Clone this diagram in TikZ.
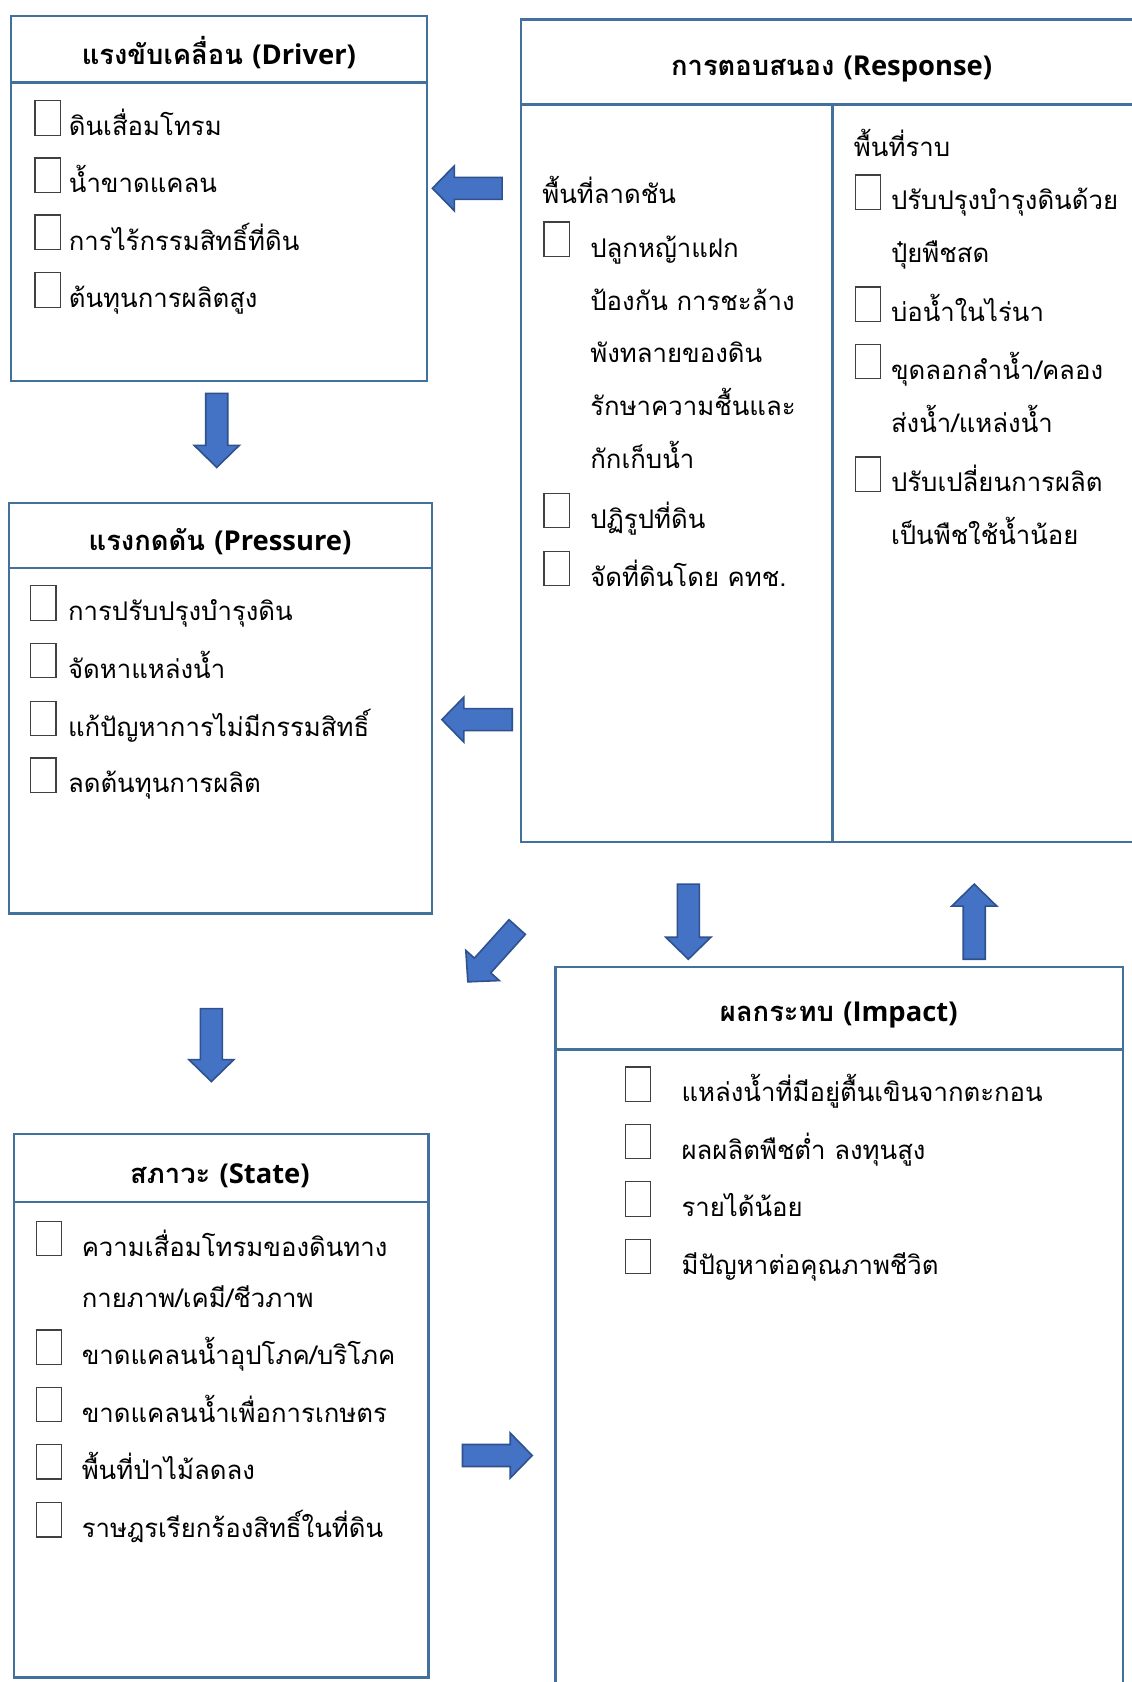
\documentclass[tikz,border=0pt]{standalone}
\usepackage{fontspec}
\setmainfont[Script=Thai]{Loma}
\newfontfamily\latfont{Open Sans}
\definecolor{boxblue}{HTML}{41719C}
\definecolor{arrfill}{HTML}{4472C4}
\definecolor{arrline}{HTML}{2F528F}
\tikzset{
  frame/.style={draw=boxblue, line width=2.2pt},
  boxnode/.style={frame, rectangle, inner sep=0pt, outer sep=0pt, anchor=north west},
  cbox/.style={draw=black!75, line width=1.1pt, rectangle, minimum width=23.5pt, minimum height=32pt, inner sep=0pt, anchor=south west},
  itemtxt/.style={anchor=base west, inner sep=0pt, align=left, font=\fontsize{24}{49.2}\selectfont},
  titletxt/.style={anchor=base, inner sep=0pt, font=\fontsize{25.5}{30}\selectfont\bfseries},
  pics/barrow/.style={code={
    \draw[fill=arrfill, draw=arrline, line width=1.5pt]
      (0,-10.25) -- (#1-20.5,-10.25) -- (#1-20.5,-21) -- (#1,0) -- (#1-20.5,21)
      -- (#1-20.5,10.25) -- (0,10.25) -- cycle;}}
}
\begin{document}
\begin{tikzpicture}[x=1pt,y=-1pt]
\useasboundingbox[fill=white] (0,0) rectangle (1055,1567.6);

% ---------- Driver ----------
\node[boxnode, minimum width=387.5pt, minimum height=340pt] (drv) at (10.5,15) {};
\draw[frame] (drv.west |- 0,77) -- (drv.east |- 0,77);
\node[titletxt] (drvt) at (204,60.5) {แรงขับเคลื่อน {\latfont (Driver)}};
\node[cbox] (d1b) at (32,126.5) {};
\node[itemtxt] (d1) at (64,126.5) {ดินเสื่อมโทรม};
\node[cbox] (d2b) at (32,179.8) {};
\node[itemtxt] (d2) at (64,179.8) {น้ำขาดแคลน};
\node[cbox] (d3b) at (32,233) {};
\node[itemtxt] (d3) at (64,233) {การไร้กรรมสิทธิ์ที่ดิน};
\node[cbox] (d4b) at (32,286.8) {};
\node[itemtxt] (d4) at (64,286.8) {ต้นทุนการผลิตสูง};

% ---------- Pressure ----------
\node[boxnode, minimum width=394.5pt, minimum height=383pt] (prs) at (8.3,468.5) {};
\draw[frame] (prs.west |- 0,529.5) -- (prs.east |- 0,529.5);
\node[titletxt] (prst) at (205,512.6) {แรงกดดัน {\latfont (Pressure)}};
\node[cbox] (p1b) at (28.2,578.5) {};
\node[itemtxt] (p1) at (63.2,578.5) {การปรับปรุงบำรุงดิน};
\node[cbox] (p2b) at (28.2,632) {};
\node[itemtxt] (p2) at (63.2,632) {จัดหาแหล่งน้ำ};
\node[cbox] (p3b) at (28.2,686) {};
\node[itemtxt] (p3) at (63.2,686) {แก้ปัญหาการไม่มีกรรมสิทธิ์};
\node[cbox] (p4b) at (28.2,739) {};
\node[itemtxt] (p4) at (63.2,739) {ลดต้นทุนการผลิต};

% ---------- State ----------
\node[boxnode, minimum width=386.2pt, minimum height=506.5pt] (sta) at (13.3,1057) {};
\draw[frame] (sta.west |- 0,1120.5) -- (sta.east |- 0,1120.5);
\node[titletxt] (stat) at (205,1102.7) {สภาวะ {\latfont (State)}};
\node[cbox] (s1b) at (33.5,1170.6) {};
\node[itemtxt, font=\fontsize{24}{48}\selectfont] (s1) at (76,1218.6) {ความเสื่อมโทรมของดินทาง\\กายภาพ/เคมี/ชีวภาพ};
\node[cbox] (s2b) at (33.5,1272) {};
\node[itemtxt] (s2) at (76,1272) {ขาดแคลนน้ำอุปโภค/บริโภค};
\node[cbox] (s3b) at (33.5,1325.5) {};
\node[itemtxt] (s3) at (76,1325.5) {ขาดแคลนน้ำเพื่อการเกษตร};
\node[cbox] (s4b) at (33.5,1379) {};
\node[itemtxt] (s4) at (76,1379) {พื้นที่ป่าไม้ลดลง};
\node[cbox] (s5b) at (33.5,1433) {};
\node[itemtxt] (s5) at (76,1433) {ราษฎรเรียกร้องสิทธิ์ในที่ดิน};

% ---------- Response (open on the right) ----------
\coordinate (rtr) at (1055,18.2);
\coordinate (rtl) at (485.5,18.2);
\coordinate (rbl) at (485.5,785);
\coordinate (rbr) at (1055,785);
\draw[frame] (rtr) -- (rtl) -- (rbl) -- (rbr);
\coordinate (rhl) at (485.5,97.5);
\coordinate (rhr) at (1055,97.5);
\draw[frame] (rhl) -- (rhr);
\coordinate (rvt) at (775.8,97.5);
\coordinate (rvb) at (775.8,785);
\draw[frame] (rvt) -- (rvb);
\node[titletxt] (rest) at (775,70) {การตอบสนอง {\latfont (Response)}};
\node[itemtxt] (rl) at (505.3,189.2) {พื้นที่ลาดชัน};
\node[cbox] (rl1b) at (506.4,239.4) {};
\node[itemtxt] (rl1) at (550,436.6) {ปลูกหญ้าแฝก\\ป้องกัน การชะล้าง\\พังทลายของดิน\\รักษาความชื้นและ\\กักเก็บน้ำ};
\node[cbox] (rl2b) at (506.4,492.2) {};
\node[itemtxt] (rl2) at (550,492.2) {ปฏิรูปที่ดิน};
\node[cbox] (rl3b) at (506.4,546.4) {};
\node[itemtxt] (rl3) at (550,546.4) {จัดที่ดินโดย คทช.};
\node[itemtxt] (rr) at (795.7,145.5) {พื้นที่ราบ};
\node[cbox] (rr1b) at (796.7,195.7) {};
\node[itemtxt] (rr1) at (830.2,244.8) {ปรับปรุงบำรุงดินด้วย\\ปุ๋ยพืชสด};
\node[cbox] (rr2b) at (796.7,300) {};
\node[itemtxt] (rr2) at (830.2,300) {บ่อน้ำในไร่นา};
\node[cbox] (rr3b) at (796.7,353.6) {};
\node[itemtxt] (rr3) at (830.2,403) {ขุดลอกลำน้ำ/คลอง\\ส่งน้ำ/แหล่งน้ำ};
\node[cbox] (rr4b) at (796.7,458.4) {};
\node[itemtxt] (rr4) at (830.2,507.5) {ปรับเปลี่ยนการผลิต\\เป็นพืชใช้น้ำน้อย};

% ---------- Impact (open at the bottom) ----------
\coordinate (ibl) at (517.7,1567.6);
\coordinate (itl) at (517.7,901);
\coordinate (itr) at (1046.5,901);
\coordinate (ibr) at (1046.5,1567.6);
\draw[frame] (ibl) -- (itl) -- (itr) -- (ibr);
\coordinate (ihl) at (517.7,978);
\coordinate (ihr) at (1046.5,978);
\draw[frame] (ihl) -- (ihr);
\node[titletxt] (impt) at (781.7,952) {ผลกระทบ {\latfont (Impact)}};
\node[cbox] (i1b) at (582.5,1027) {};
\node[itemtxt] (i1) at (635,1027) {แหล่งน้ำที่มีอยู่ตื้นเขินจากตะกอน};
\node[cbox] (i2b) at (582.5,1080.5) {};
\node[itemtxt] (i2) at (635,1080.5) {ผลผลิตพืชต่ำ ลงทุนสูง};
\node[cbox] (i3b) at (582.5,1134) {};
\node[itemtxt] (i3) at (635,1134) {รายได้น้อย};
\node[cbox] (i4b) at (582.5,1187.5) {};
\node[itemtxt] (i4) at (635,1187.5) {มีปัญหาต่อคุณภาพชีวิต};

% ---------- Block arrows ----------
\pic[rotate=180] (a1) at (468,175.5) {barrow=65};
\pic[rotate=-90] (a2) at (202,366.6) {barrow=69};
\pic[rotate=180] (a3) at (477.4,670.7) {barrow=65.6};
\pic[rotate=-90] (a4) at (641.5,824) {barrow=70};
\pic[rotate=90] (a5) at (908,894) {barrow=70};
\pic[rotate=-132] (a6) at (482,864) {barrow=68.7};
\pic[rotate=-90] (a7) at (197,940) {barrow=68};
\pic (a8) at (431,1356.5) {barrow=65};
\end{tikzpicture}
\end{document}
